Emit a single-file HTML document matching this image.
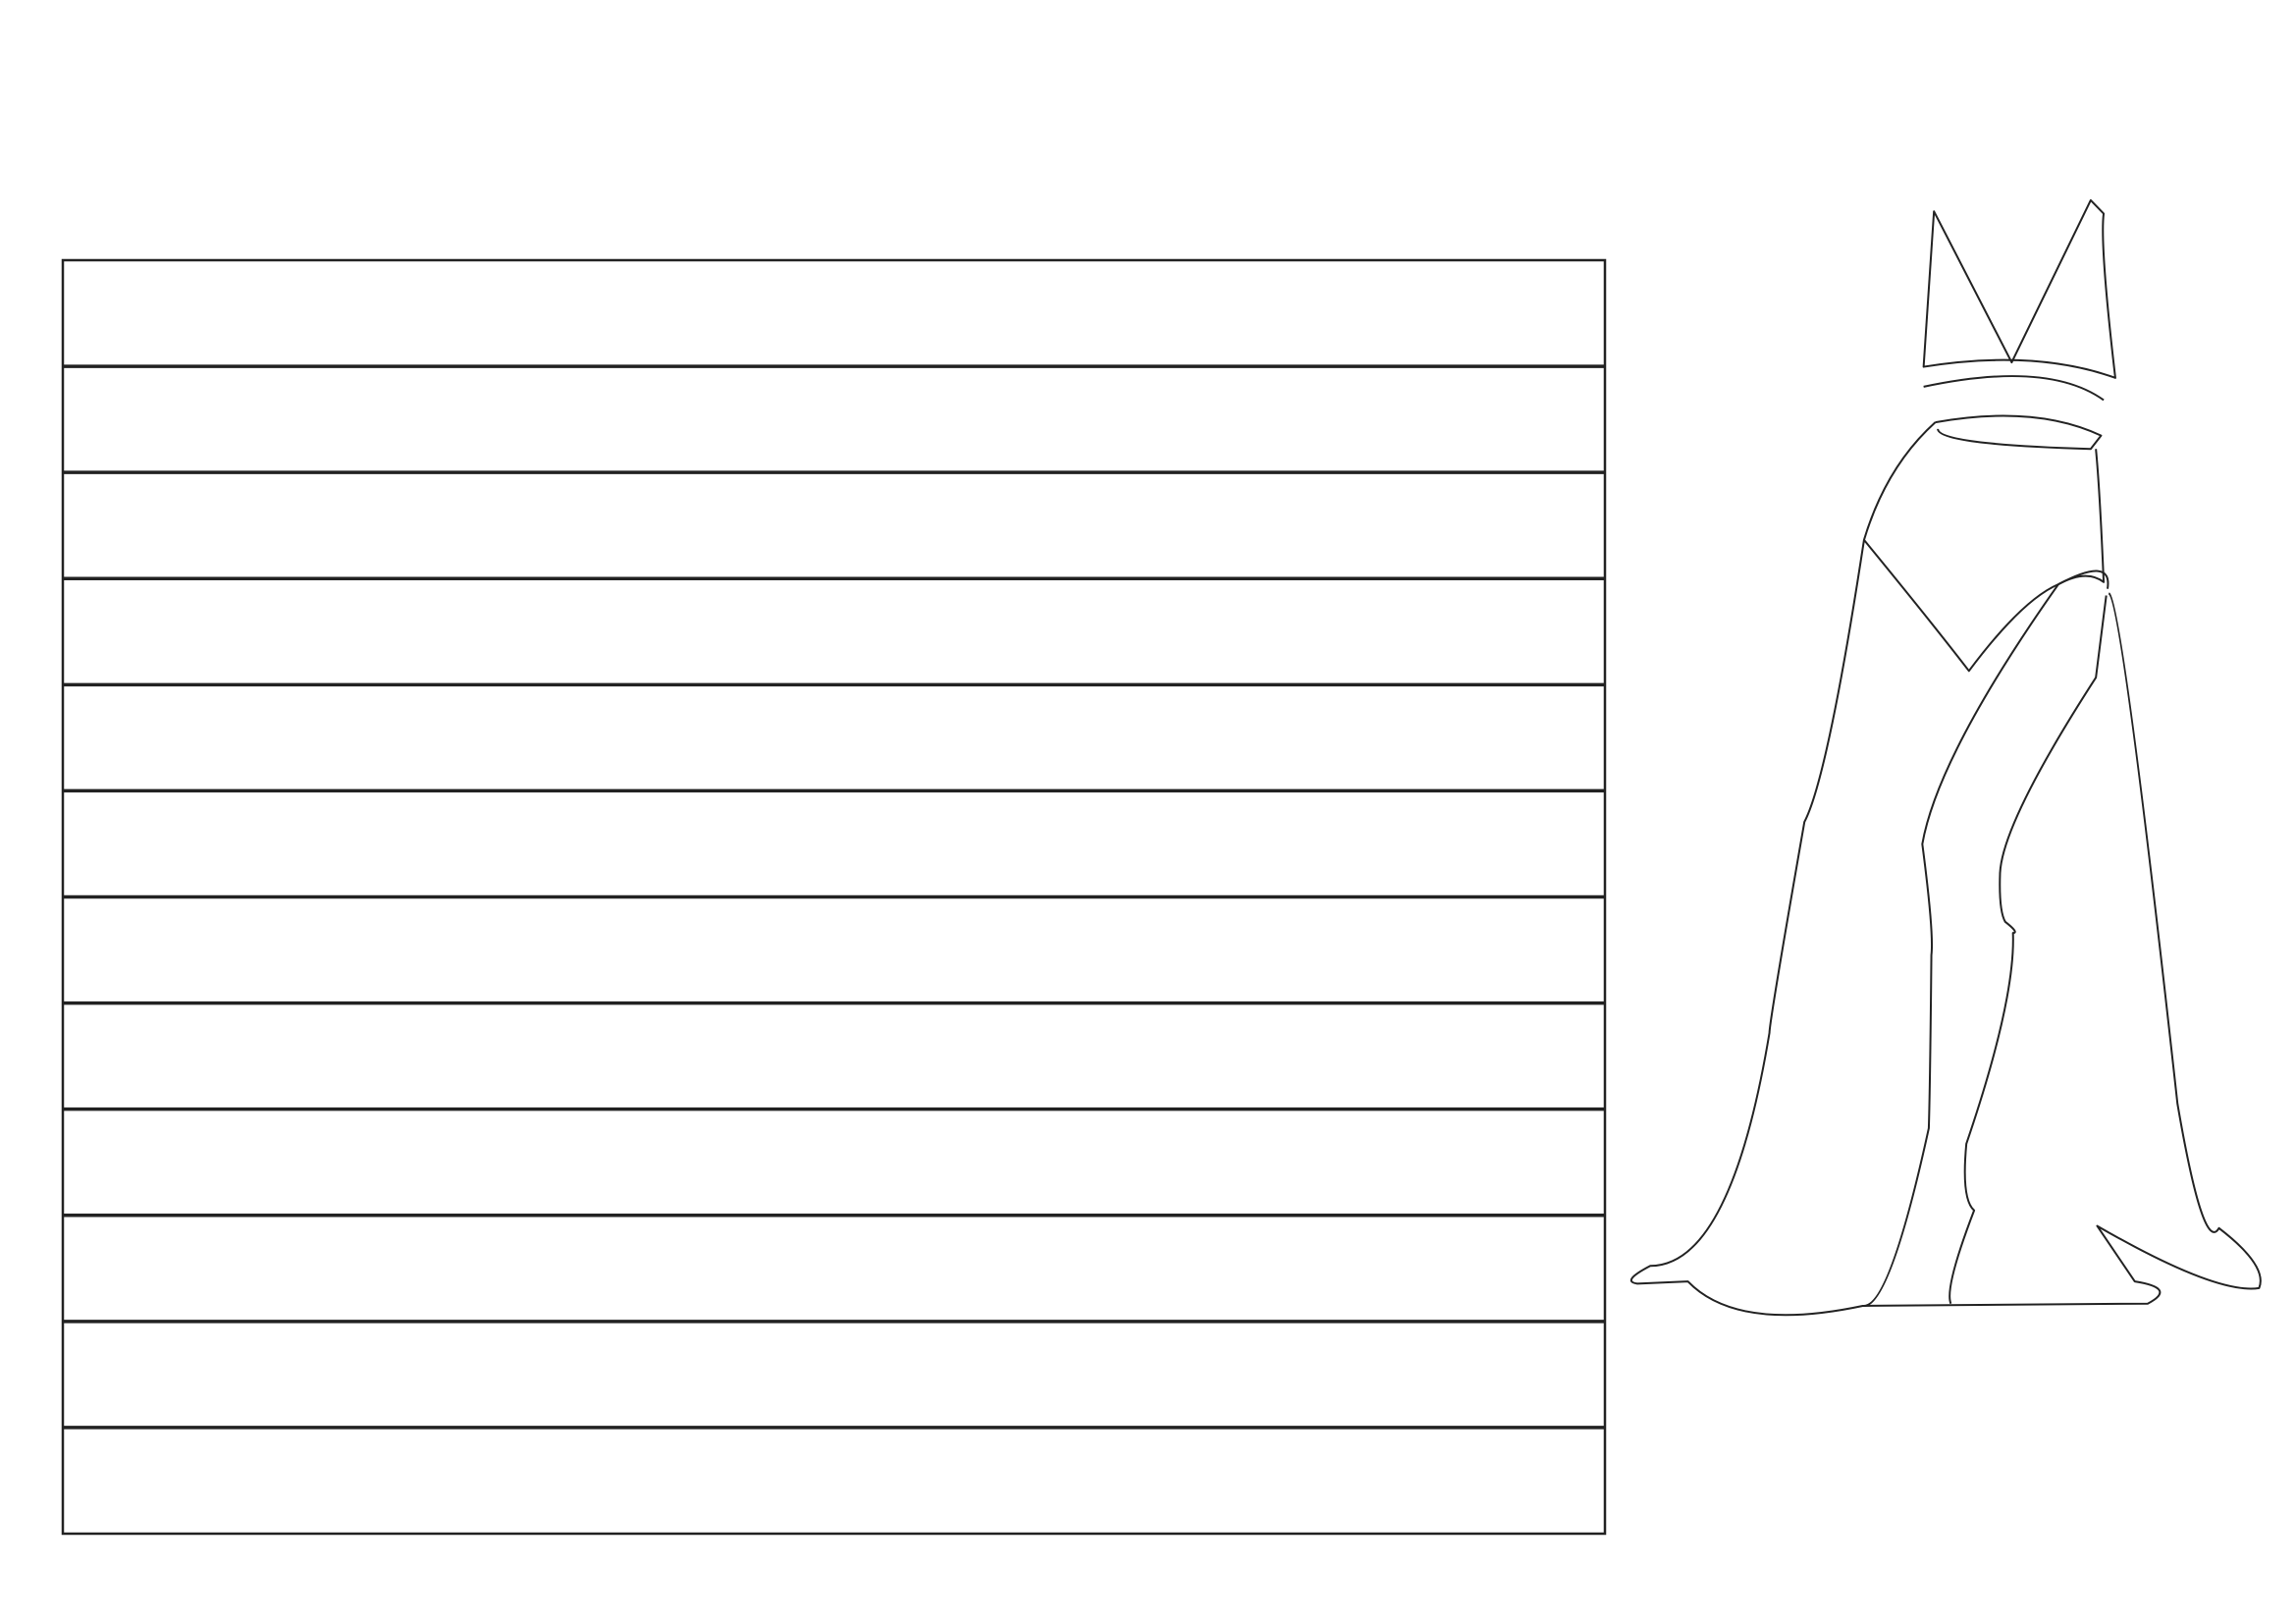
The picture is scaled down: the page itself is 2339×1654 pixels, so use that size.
<!DOCTYPE html>
<html><head><meta charset="utf-8"><style>html,body{margin:0;padding:0;background:#fff}svg{display:block}</style></head>
<body>
<svg width="2339" height="1654" viewBox="0 0 2339 1654" xmlns="http://www.w3.org/2000/svg">
<g stroke="#222" fill="none">
<rect x="64" y="265" width="1571" height="1297" stroke-width="2.5"/>
<g id="lines" stroke-width="3.5"></g>
</g>
<g stroke="#222" stroke-width="2" fill="none" stroke-linejoin="round" transform="matrix(1.3196 0 0 2.261 -513.3 -225.6)">
<path vector-effect="non-scaling-stroke" d="M1882,195 L1874,265 Q1960,257 2022,270 Q2010,210 2013,196 L2003,190 L1942,263 L1882,195 Z"/>
<path vector-effect="non-scaling-stroke" d="M1874,274 Q1970,262 2013,280"/>
<path vector-effect="non-scaling-stroke" d="M1883,290 Q1960,282 2011,296 L2003,302 Q1885,300 1885,293"/>
<path vector-effect="non-scaling-stroke" d="M1883,290 Q1845,310 1828,343 Q1800,450 1782,470 Q1755,560 1755,565 Q1725,670 1663,670 Q1640,677 1653,678 L1692,677 Q1730,700 1827,688 L2047,687 Q2070,680 2037,677 L2008,652 Q2100,683 2133,680 Q2140,670 2102,653 Q2090,665 2070,597 Q2027,370 2017,367"/>
<path vector-effect="non-scaling-stroke" d="M2007,302 Q2010,320 2013,362 Q2000,356 1978,363"/>
<path vector-effect="non-scaling-stroke" d="M1828,343 Q1880,380 1909,402 Q1950,370 1978,363 Q2020,350 2016,365"/>
<path vector-effect="non-scaling-stroke" d="M1978,363 Q1885,440 1873,480 Q1882,520 1880,530 Q1879,590 1878,608 Q1848,688 1828,688"/>
<path vector-effect="non-scaling-stroke" d="M2015,368 L2007,405 Q1935,470 1933,493 Q1932,510 1937,515 Q1948,520 1943,520 Q1945,550 1907,615 Q1903,640 1913,645 Q1890,680 1895,687"/>
</g>
<script>
const rowCount = [12];
const g = document.getElementById('lines');
const top0 = 265, h = 1297;
for (let i = 1; i < rowCount[0]; i++) {
  const y = top0 + h * i / rowCount[0];
  const l = document.createElementNS('http://www.w3.org/2000/svg', 'line');
  l.setAttribute('x1', 64); l.setAttribute('x2', 1635);
  l.setAttribute('y1', y); l.setAttribute('y2', y);
  
  
  g.appendChild(l);
}
</script>
</svg>
</body></html>
